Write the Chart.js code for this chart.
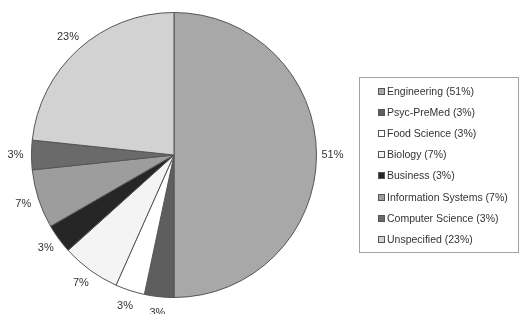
<!DOCTYPE html>
<html>
<head>
<meta charset="utf-8">
<script src="https://cdn.jsdelivr.net/npm/chart.js@4/dist/chart.umd.min.js"></script>
<style>
html,body{margin:0;padding:0;background:#fff;}
#wrap{width:521px;height:314px;position:relative;}
</style>
</head>
<body>
<div id="wrap"><canvas id="c" width="521" height="314"></canvas></div>
<script>
const categories = ['Engineering (51%)','Psyc-PreMed (3%)','Food Science (3%)','Biology (7%)','Business (3%)','Information Systems (7%)','Computer Science (3%)','Unspecified (23%)'];
const counts = [15, 1, 1, 2, 1, 2, 1, 7];
const pctLabels = ['51%','3%','3%','7%','3%','7%','3%','23%'];
const colors = ['#a8a8a8','#5e5e5e','#ffffff','#f4f4f4','#262626','#9d9d9d','#6a6a6a','#d2d2d2'];

const outLabels = {
  id:'outLabels',
  afterDatasetsDraw(chart){
    const ctx = chart.ctx;
    const meta = chart.getDatasetMeta(0);
    ctx.save();
    ctx.font = '11px "Liberation Sans", Arial, sans-serif';
    ctx.fillStyle = '#333';
    ctx.textAlign = 'center';
    ctx.textBaseline = 'middle';
    meta.data.forEach((arc,i)=>{
      const p = arc.getProps(['x','y','startAngle','endAngle','outerRadius'],true);
      const a = (p.startAngle+p.endAngle)/2;
      const r = p.outerRadius + 16;
      ctx.fillText(pctLabels[i], p.x + Math.cos(a)*r, p.y + Math.sin(a)*r);
    });
    ctx.restore();
  }
};

const boxLegend = {
  id:'boxLegend',
  afterDraw(chart){
    const ctx = chart.ctx;
    ctx.save();
    const bx = 359.5, by = 77.5, bw = 159, bh = 175;
    ctx.strokeStyle = '#a0a0a0';
    ctx.lineWidth = 1;
    ctx.strokeRect(bx,by,bw,bh);
    ctx.font = '10.5px "Liberation Sans", Arial, sans-serif';
    ctx.textBaseline = 'middle';
    ctx.textAlign = 'left';
    const labels = chart.data.labels;
    labels.forEach((lab,i)=>{
      const y = Math.round(92 + i*21.1);
      ctx.fillStyle = colors[i];
      ctx.fillRect(378.5, y-3.5, 6, 6);
      ctx.strokeStyle = '#555';
      ctx.strokeRect(378.5, y-3.5, 6, 6);
      ctx.fillStyle = '#333';
      ctx.fillText(lab, 387, y);
    });
    ctx.restore();
  }
};

new Chart(document.getElementById('c'), {
  type:'pie',
  data:{
    labels: categories,
    datasets:[{
      data: counts,
      backgroundColor: colors,
      borderColor: '#555',
      borderWidth: 1
    }]
  },
  options:{
    responsive:false,
    animation:false,
    layout:{padding:{left:31,right:204,top:12,bottom:16}},
    plugins:{legend:{display:false},tooltip:{enabled:false}}
  },
  plugins:[outLabels, boxLegend]
});
</script>
</body>
</html>
